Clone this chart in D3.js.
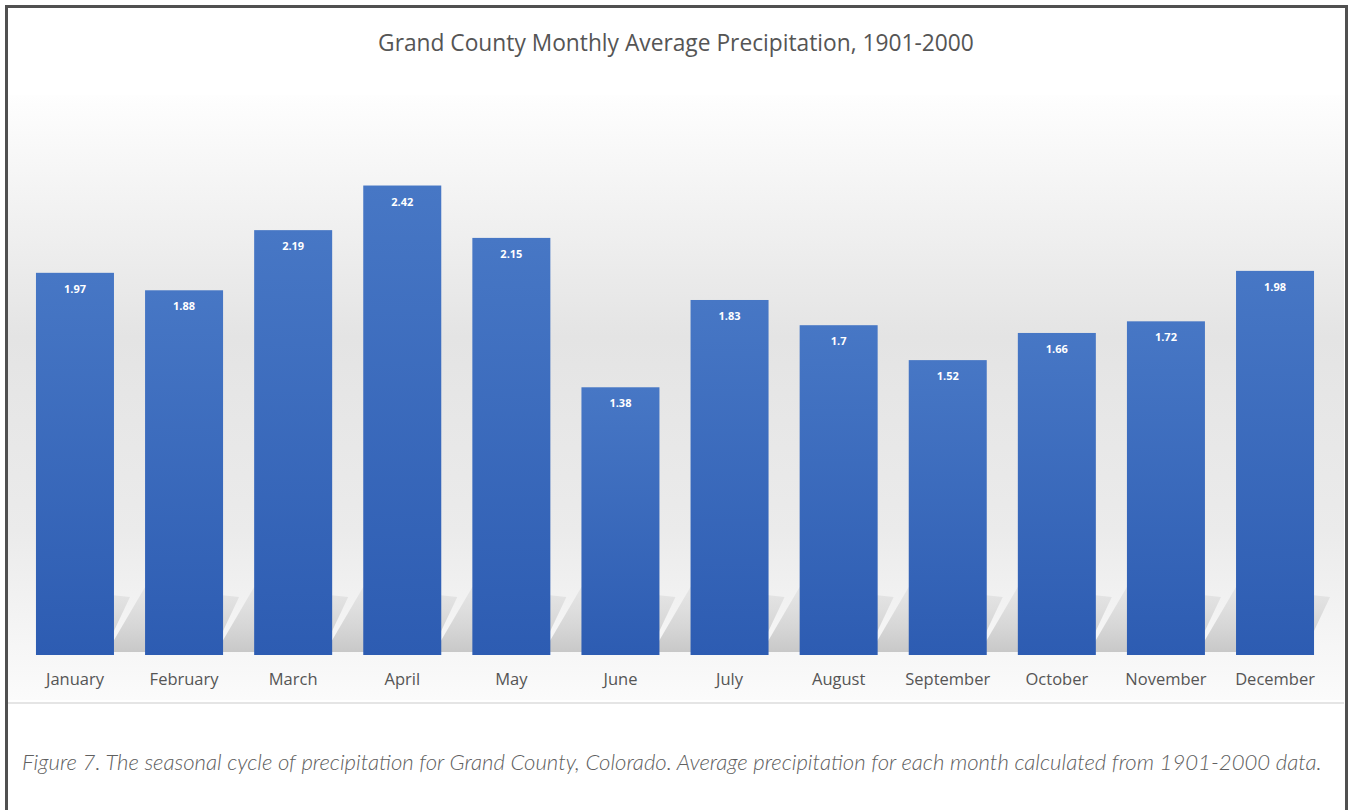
<!DOCTYPE html>
<html>
<head>
<meta charset="utf-8">
<script src="https://cdn.jsdelivr.net/npm/d3@7"></script>
<style>
  html, body { margin: 0; padding: 0; background: #ffffff; }
  svg { display: block; }
</style>
</head>
<body>
<svg id="chart" width="1350" height="810"></svg>
<script>
// ---- data ----
const months = ["January","February","March","April","May","June","July","August","September","October","November","December"];
const precipitation = [1.97, 1.88, 2.19, 2.42, 2.15, 1.38, 1.83, 1.7, 1.52, 1.66, 1.72, 1.98];
const valueLabels = ["1.97","1.88","2.19","2.42","2.15","1.38","1.83","1.7","1.52","1.66","1.72","1.98"];
const titleText = "Grand County Monthly Average Precipitation, 1901-2000";
const captionText = "Figure 7. The seasonal cycle of precipitation for Grand County, Colorado. Average precipitation for each month calculated from 1901-2000 data.";

const svg = d3.select("#chart");
const W = 1350, H = 810;

// scales
const x = d3.scaleBand().domain(months).range([19.6, 1330.4]).paddingInner(0.285).paddingOuter(0.15);
const y = d3.scaleLinear().domain([0, 2.5]).range([655, 170]);

// defs
const defs = svg.append("defs");
const bg = defs.append("linearGradient").attr("id","bgGrad").attr("x1",0).attr("y1",0).attr("x2",0).attr("y2",1);
bg.append("stop").attr("offset","0%").attr("stop-color","#fefefe");
bg.append("stop").attr("offset","40%").attr("stop-color","#e4e4e4");
bg.append("stop").attr("offset","72%").attr("stop-color","#ebebeb");
bg.append("stop").attr("offset","100%").attr("stop-color","#fbfbfb");

const barG = defs.append("linearGradient").attr("id","barGrad").attr("x1",0).attr("y1",0).attr("x2",0).attr("y2",1);
barG.append("stop").attr("offset","0%").attr("stop-color","#4777c5");
barG.append("stop").attr("offset","100%").attr("stop-color","#2d5cb2");

const shG = defs.append("linearGradient").attr("id","shGrad").attr("x1",0).attr("y1",0).attr("x2",0).attr("y2",1);
shG.append("stop").attr("offset","0%").attr("stop-color","#dedede").attr("stop-opacity",0.6);
shG.append("stop").attr("offset","100%").attr("stop-color","#c8c8c8").attr("stop-opacity",1);

defs.append("clipPath").attr("id","plotClip")
  .append("rect").attr("x", x(months[0])).attr("y",95).attr("width",1342 - x(months[0])).attr("height",605);

// background
svg.append("rect").attr("x",0).attr("y",0).attr("width",W).attr("height",H).attr("fill","#ffffff");
svg.append("rect").attr("x",8).attr("y",95).attr("width",1336).attr("height",605).attr("fill","url(#bgGrad)");

const data = months.map((m,i) => ({m, v: precipitation[i], label: valueLabels[i]}));

// perspective shadows (skewed behind each bar)
svg.append("g").attr("clip-path","url(#plotClip)").selectAll("path").data(data).join("path")
  .attr("d", d => {
    const x0 = x(d.m), x1 = x0 + x.bandwidth(), b = y(0) - 3;
    return `M${x0 - 38},${b} L${x1 - 10},${b} L${x1 + 16},${b - 55} L${x0},${b - 65} Z`;
  })
  .attr("fill","url(#shGrad)");

// bars
svg.append("g").selectAll("rect").data(data).join("rect")
  .attr("x", d => x(d.m))
  .attr("y", d => y(d.v))
  .attr("width", x.bandwidth())
  .attr("height", d => y(0) - y(d.v))
  .attr("fill","url(#barGrad)");

// value labels
svg.append("g").selectAll("text").data(data).join("text")
  .attr("x", d => x(d.m) + x.bandwidth()/2)
  .attr("y", d => y(d.v) + 20)
  .attr("text-anchor","middle")
  .attr("font-family","'Open Sans', sans-serif")
  .attr("font-weight","bold")
  .attr("font-size","11px")
  .attr("fill","#ffffff")
  .text(d => d.label);

// x axis labels
const xAxis = d3.axisBottom(x).tickSize(0).tickPadding(18);
const ax = svg.append("g").attr("transform",`translate(0,${y(0)})`).call(xAxis);
ax.select(".domain").remove();
ax.selectAll("text")
  .attr("font-family","'Open Sans', sans-serif")
  .attr("font-size","16.5px")
  .attr("fill","#555555");

// separator line
svg.append("line").attr("x1",8).attr("x2",1344).attr("y1",703).attr("y2",703)
  .attr("stroke","#dcdcdc").attr("stroke-width",1.5);

// title
const title = svg.append("text")
  .attr("x", 676).attr("y", 51)
  .attr("text-anchor","middle")
  .attr("font-family","'Open Sans', sans-serif")
  .attr("font-size","19px")
  .attr("fill","#555555")
  .text(titleText);
{
  const w = title.node().getComputedTextLength();
  title.attr("font-size", (19 * 596 / w).toFixed(2) + "px");
}

// caption
const cap = svg.append("text")
  .attr("x", 22).attr("y", 770)
  .attr("font-family","Lato, 'Open Sans', sans-serif")
  .attr("font-style","italic")
  .attr("font-weight","300")
  .attr("font-size","17px")
  .attr("fill","#606060")
  .text(captionText);
{
  const w = cap.node().getComputedTextLength();
  cap.attr("font-size", (17 * 1300 / w).toFixed(2) + "px");
}

// frame border
svg.append("rect").attr("x",6.5).attr("y",6.5).attr("width",1340).attr("height",820)
  .attr("fill","none").attr("stroke","#505050").attr("stroke-width",3);
</script>
</body>
</html>
